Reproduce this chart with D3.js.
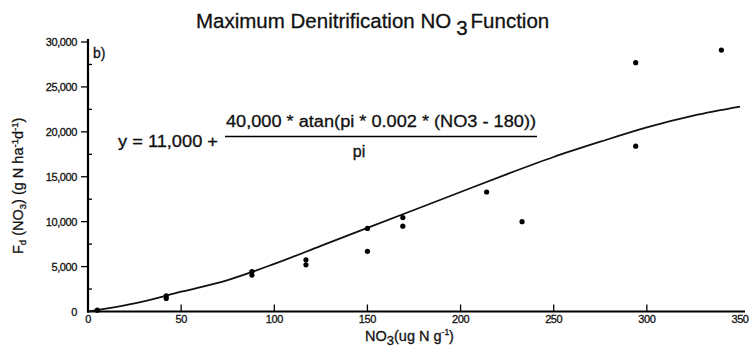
<!DOCTYPE html>
<html>
<head>
<meta charset="utf-8">
<script src="https://cdn.jsdelivr.net/npm/d3@7"></script>
<style>
  body { margin: 0; background: #fff; }
  svg { font-family: "Liberation Sans", Arial, sans-serif; }
  svg text { fill: #111; stroke: #111; stroke-width: 0.3px; }
</style>
</head>
<body>
<svg id="chart" width="753" height="352"></svg>
<script>
// tick labels
var xTicks = [0, 50, 100, 150, 200, 250, 300, 350];
var yTicks = [0, 5000, 10000, 15000, 20000, 25000, 30000];
var yMinor = [2500, 7500, 12500, 17500, 22500, 27500];

var obsNO3 = [5, 42, 42, 88, 88, 117, 117, 150, 150, 169, 169, 214, 233, 294, 294, 340];
var obsFd  = [150, 1750, 1450, 4450, 4050, 5750, 5200, 9250, 6700, 10450, 9500, 13300, 10000, 27700, 18400, 29100];

// fitted curve as drawn
var curveNO3 = [0, 25, 50, 75, 100, 125, 150, 175, 200, 225, 250, 275, 300, 325, 350];
var curveFd  = [0, 900, 2200, 3500, 5300, 7300, 9300, 11300, 13300, 15300, 17200, 18900, 20500, 21800, 22800];

var svg = d3.select('#chart');

var x = d3.scaleLinear().domain([0, 350]).range([88, 740]);
var y = d3.scaleLinear().domain([0, 30000]).range([311.5, 42]);
var fmt = d3.format(',');

// title
var title = svg.append('text')
    .attr('x', 196).attr('y', 28)
    .attr('font-size', 20.5);
title.append('tspan').text('Maximum Denitrification NO');
title.append('tspan').attr('dx', 5).attr('dy', 7).text('3');
title.append('tspan').attr('dx', 3).attr('dy', -7).text('Function');

// axes lines
svg.append('line')
    .attr('x1', x(0)).attr('x2', x(0))
    .attr('y1', 39).attr('y2', y(0) + 1)
    .attr('stroke', '#000').attr('stroke-width', 2.2);
svg.append('line')
    .attr('x1', x(0) - 1).attr('x2', 745)
    .attr('y1', y(0)).attr('y2', y(0))
    .attr('stroke', '#000').attr('stroke-width', 2.2);

// y ticks
svg.selectAll('.ytick')
    .data(yTicks.slice(1))
    .enter().append('line')
    .attr('x1', x(0) - 7).attr('x2', x(0))
    .attr('y1', d => y(d)).attr('y2', d => y(d))
    .attr('stroke', '#000').attr('stroke-width', 1.3);
svg.selectAll('.yminor')
    .data(yMinor)
    .enter().append('line')
    .attr('x1', x(0)).attr('x2', x(0) + 4)
    .attr('y1', d => y(d)).attr('y2', d => y(d))
    .attr('stroke', '#000').attr('stroke-width', 1.3);
svg.selectAll('.ylab')
    .data(yTicks)
    .enter().append('text')
    .attr('x', 77).attr('y', d => y(d) + 4)
    .attr('text-anchor', 'end')
    .attr('font-size', 11)
    .attr('letter-spacing', -0.4)
    .text(d => fmt(d));

// x ticks
svg.selectAll('.xtick')
    .data(xTicks.slice(1, -1))
    .enter().append('line')
    .attr('x1', d => x(d)).attr('x2', d => x(d))
    .attr('y1', y(0) - 7).attr('y2', y(0))
    .attr('stroke', '#000').attr('stroke-width', 1.3);
svg.selectAll('.xlab')
    .data(xTicks)
    .enter().append('text')
    .attr('x', d => x(d)).attr('y', 323)
    .attr('text-anchor', 'middle')
    .attr('font-size', 11)
    .attr('letter-spacing', -0.4)
    .text(d => d);

// x axis title
var xt = svg.append('text')
    .attr('x', 365).attr('y', 341)
    .attr('font-size', 14.5);
xt.append('tspan').text('NO');
xt.append('tspan').attr('dy', 4).attr('font-size', 13).text('3');
xt.append('tspan').attr('dy', -4).text('(ug N g');
xt.append('tspan').attr('dy', -6).attr('font-size', 8.5).text('-1');
xt.append('tspan').attr('dy', 6).text(')');

// y axis title
var yt = svg.append('text')
    .attr('transform', 'translate(23,254) rotate(-90)')
    .attr('font-size', 14.5);
yt.append('tspan').text('F');
yt.append('tspan').attr('dy', 3).attr('font-size', 9.5).text('d');
yt.append('tspan').attr('dy', -3).text(' (NO');
yt.append('tspan').attr('dy', 3).attr('font-size', 9.5).text('3');
yt.append('tspan').attr('dy', -3).text(') (g N ha');
yt.append('tspan').attr('dy', -5).attr('font-size', 9.5).text('-1');
yt.append('tspan').attr('dy', 5).text('d');
yt.append('tspan').attr('dy', -5).attr('font-size', 9.5).text('-1');
yt.append('tspan').attr('dy', 5).text(')');

// panel letter
svg.append('text')
    .attr('x', 93).attr('y', 58)
    .attr('font-size', 14)
    .text('b)');

// equation
svg.append('text')
    .attr('x', 118).attr('y', 146.5)
    .attr('font-size', 16)
    .attr('textLength', 100)
    .attr('lengthAdjust', 'spacingAndGlyphs')
    .text('y = 11,000 +');
svg.append('text')
    .attr('x', 226).attr('y', 126.5)
    .attr('font-size', 16)
    .attr('textLength', 310)
    .attr('lengthAdjust', 'spacingAndGlyphs')
    .text('40,000 * atan(pi * 0.002 * (NO3 - 180))');
svg.append('line')
    .attr('x1', 225).attr('x2', 537)
    .attr('y1', 136.5).attr('y2', 136.5)
    .attr('stroke', '#000').attr('stroke-width', 1.6);
svg.append('text')
    .attr('x', 359).attr('y', 157)
    .attr('text-anchor', 'middle')
    .attr('font-size', 16)
    .text('pi');

// fitted curve
var line = d3.line()
    .x(d => x(d[0]))
    .y(d => y(d[1]))
    .curve(d3.curveMonotoneX);
svg.append('path')
    .datum(d3.zip(curveNO3, curveFd))
    .attr('d', line)
    .attr('fill', 'none')
    .attr('stroke', '#111')
    .attr('stroke-width', 1.8);

// points
svg.selectAll('.pt')
    .data(d3.zip(obsNO3, obsFd))
    .enter().append('circle')
    .attr('cx', d => x(d[0]))
    .attr('cy', d => y(d[1]))
    .attr('r', 2.6)
    .attr('fill', '#000');
</script>
</body>
</html>
